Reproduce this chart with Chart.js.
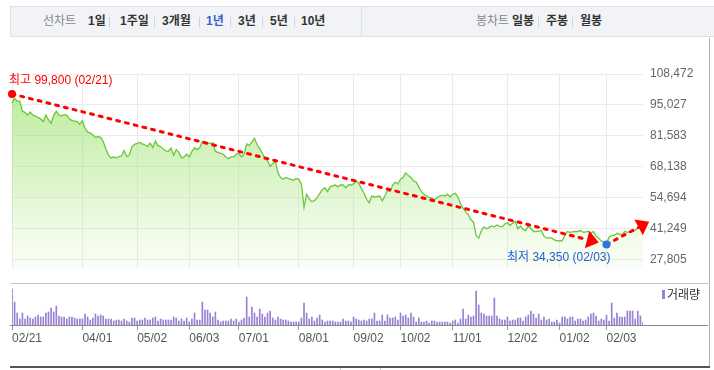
<!DOCTYPE html>
<html>
<head>
<meta charset="utf-8">
<script src="https://cdn.jsdelivr.net/npm/chart.js@4.4.1/dist/chart.umd.min.js"></script>
<style>
  body { margin: 0; width: 714px; height: 370px; overflow: hidden; background: #fff; position: relative;
         font-family: "Liberation Sans", "Noto Sans CJK KR", sans-serif; }
  .abs { position: absolute; }
  #tabs { left: 10px; top: 6px; width: 704px; height: 29px; background: #f1f3f6;
          border-top: 1px solid #dde0e5; border-bottom: 1px solid #dde0e5; border-left: 1px solid #dde0e5; }
  .t { position: absolute; top: 6px; font-size: 12px; line-height: 16px; color: #333; font-weight: bold; white-space: nowrap; }
  .g { color: #888; font-weight: normal; }
  .on { color: #3a5fd0; }
  .sep { position: absolute; top: 10px; width: 1px; height: 10px; background: #d0d3d8; }
</style>
</head>
<body>
<div id="tabs" class="abs">
  <span class="t g" style="left:32px">선차트</span>
  <span class="t" style="left:77px">1일</span><i class="sep" style="left:98px"></i>
  <span class="t" style="left:109px">1주일</span><i class="sep" style="left:143px"></i>
  <span class="t" style="left:151px">3개월</span><i class="sep" style="left:188px"></i>
  <span class="t on" style="left:195px">1년</span><i class="sep" style="left:219px"></i>
  <span class="t" style="left:227px">3년</span><i class="sep" style="left:251px"></i>
  <span class="t" style="left:259px">5년</span><i class="sep" style="left:283px"></i>
  <span class="t" style="left:290px">10년</span>
  <i class="abs" style="left:350px;top:0;width:1px;height:29px;background:#dde0e5"></i>
  <span class="t g" style="left:465px">봉차트</span>
  <span class="t" style="left:501px">일봉</span><i class="sep" style="left:527px"></i>
  <span class="t" style="left:535px">주봉</span><i class="sep" style="left:561px"></i>
  <span class="t" style="left:569px">월봉</span>
</div>

<div class="abs" style="left:0;top:40px;width:714px;height:243px"><canvas id="price"></canvas></div>
<div class="abs" style="left:0;top:283px;width:714px;height:62px"><canvas id="vol"></canvas></div>

<div class="abs" style="left:10px;top:283px;width:698px;height:1px;background:#c4c4c4"></div>
<div class="abs" style="left:10px;top:325px;width:698px;height:1px;background:#8a8a8a"></div>
<div class="abs" style="left:709px;top:38px;width:1px;height:330px;background:#b0b0b0"></div>
<div class="abs" style="left:10px;top:366px;width:700px;height:2px;background:#555"></div>
<div class="abs" style="left:340px;top:368px;width:39px;height:3px;border-left:1px solid #ccc;border-right:1px solid #ccc"></div>
<div class="abs" style="left:662px;top:290px;width:3px;height:9px;background:#9b84d3"></div>
<div class="abs" style="left:667px;top:287px;font-size:12px;line-height:16px;color:#333">거래량</div>

<script>
// 1년 일봉 종가 (2024-02-21 ~ 2025-02-21)
const closes = [
  95900, 97900, 96700, 96700, 92300, 91800, 90600, 91900, 90600, 90200,
  89500, 89000, 87800, 90600, 88600, 87000, 90600, 92300, 90600, 90300,
  90800, 90600, 89000, 88200, 88000, 87800, 86600, 88200, 85000, 83200,
  82900, 82000, 81000, 81200, 80900, 79000, 76000, 73200, 72000, 72400,
  72000, 72600, 72800, 75200, 72600, 73200, 76800, 77900, 78300, 78700,
  78100, 77600, 77000, 78400, 76500, 79300, 77300, 76900, 75900, 75000,
  74900, 76300, 73200, 75600, 74400, 72000, 72400, 73600, 72400, 74800,
  76400, 75600, 76400, 79300, 78800, 78500, 78300, 78500, 74800, 74400,
  74000, 73600, 72400, 71600, 72400, 72400, 73600, 74000, 72400, 73600,
  78100, 77300, 78900, 80500, 77700, 76000, 74000, 71600, 70800, 68300,
  69600, 70400, 65500, 63500, 62700, 63500, 63000, 62700, 62300, 63100,
  62700, 60600, 50500, 56200, 54200, 52900, 53500, 54600, 56500, 58200,
  59000, 57400, 59400, 59800, 60200, 59400, 60200, 60200, 59000, 60200,
  60200, 60700, 61900, 61000, 58600, 56600, 54000, 52500, 55400, 55000,
  55200, 55400, 53300, 55400, 57800, 57400, 60200, 61500, 60600, 62700,
  63500, 65500, 64300, 63500, 62000, 61500, 59400, 57400, 56200, 55400,
  54800, 54600, 53800, 54600, 55400, 55800, 55400, 56200, 55000, 56200,
  56600, 55000, 52100, 50100, 48500, 47300, 45200, 44000, 38300, 37100,
  40400, 42000, 41200, 41800, 42400, 42000, 42800, 42200, 42000, 43200,
  43800, 42600, 43600, 44400, 41200, 42400, 41000, 40400, 42400, 41200,
  40000, 40000, 40200, 40400, 38000, 37100, 37300, 37100, 36300, 35900,
  36000, 35900, 38300, 40000, 39600, 39800, 40000, 40000, 40400, 39600,
  39800, 40000, 39200, 40000, 37900, 37100, 35900, 35400, 34700, 37500,
  38300, 38300, 39200, 38800, 38700, 40000, 39600, 39900, 40000, 40400,
  41600, 42000, 42800
];

// 거래량 (만주)
const volumes = [
  36, 23, 12, 6, 12, 6, 9, 7, 6, 8,
  10, 8, 8, 12, 13, 17, 13, 19, 9, 8,
  8, 6, 8, 8, 7, 6, 6, 6, 11, 8,
  5, 7, 11, 9, 10, 9, 6, 6, 6, 4,
  5, 5, 4, 6, 4, 3, 7, 7, 4, 5,
  5, 7, 5, 5, 7, 8, 4, 6, 5, 5,
  5, 5, 8, 7, 4, 6, 4, 7, 3, 6,
  12, 5, 5, 23, 15, 15, 12, 8, 13, 5,
  3, 4, 4, 4, 6, 4, 6, 3, 5, 7,
  28, 8, 18, 12, 8, 16, 11, 8, 12, 14,
  7, 5, 8, 6, 5, 5, 4, 3, 3, 3,
  3, 7, 22, 12, 6, 8, 4, 7, 10, 5,
  3, 4, 4, 4, 3, 3, 3, 6, 4, 4,
  3, 8, 6, 5, 4, 5, 4, 6, 6, 12,
  4, 4, 10, 4, 10, 7, 7, 8, 5, 12,
  9, 10, 7, 12, 8, 3, 7, 3, 3, 4,
  2, 4, 4, 3, 3, 3, 3, 3, 2, 4,
  5, 2, 6, 16, 6, 10, 8, 9, 34, 20,
  12, 11, 9, 9, 9, 27, 9, 6, 5, 5,
  8, 4, 5, 5, 7, 7, 4, 8, 10, 14,
  11, 7, 11, 5, 8, 5, 6, 3, 3, 5,
  2, 8, 8, 6, 8, 8, 4, 6, 6, 4,
  5, 8, 11, 12, 9, 4, 6, 5, 10, 4,
  22, 7, 12, 8, 8, 8, 14, 14, 14, 6,
  14, 9, 3
];

const yTicks = [27805, 41249, 54694, 68138, 81583, 95027, 108472];
const xTickLabels = ['02/21', '04/01', '05/02', '06/03', '07/01', '08/01', '09/02', '10/02', '11/01', '12/02', '01/02', '02/03'];

const startDate = '2024-02-21';
const holidays = ['2024-03-01', '2024-04-10', '2024-05-01', '2024-05-06', '2024-05-15', '2024-06-06',
  '2024-08-15', '2024-09-16', '2024-09-17', '2024-09-18', '2024-10-01', '2024-10-03', '2024-10-09',
  '2024-12-25', '2024-12-31', '2025-01-01', '2025-01-27', '2025-01-28', '2025-01-29', '2025-01-30'];

const highValue = 99800, highDate = '2024-02-21';
const lowValue = 34350, lowDate = '2025-02-03';

// trading days
const dates = [];
const d = new Date(startDate + 'T00:00:00Z');
while (dates.length < closes.length) {
  const iso = d.toISOString().slice(0, 10);
  const wd = d.getUTCDay();
  if (wd !== 0 && wd !== 6 && !holidays.includes(iso)) dates.push(iso);
  d.setUTCDate(d.getUTCDate() + 1);
}
const mmdd = (iso) => iso.slice(5).replace('-', '/');
const tickIdx = xTickLabels.map((l) => dates.findIndex((s) => mmdd(s) === l));
const fmt = (v) => v.toLocaleString('en-US');

const FONT = '"Liberation Sans", "Noto Sans CJK KR", sans-serif';
Chart.defaults.font.family = FONT;
Chart.defaults.font.size = 12;

function arrow(ctx, from, to, extend) {
  const dx = to.x - from.x, dy = to.y - from.y;
  const len = Math.hypot(dx, dy);
  const ux = dx / len, uy = dy / len;
  const tip = { x: to.x + ux * extend, y: to.y + uy * extend };
  const base = { x: tip.x - ux * 12, y: tip.y - uy * 12 };
  ctx.save();
  ctx.strokeStyle = '#ff0000';
  ctx.lineWidth = 3;
  ctx.lineCap = 'round';
  ctx.setLineDash([3, 6]);
  ctx.beginPath();
  ctx.moveTo(from.x, from.y);
  ctx.lineTo(base.x, base.y);
  ctx.stroke();
  ctx.setLineDash([]);
  ctx.fillStyle = '#ff0000';
  ctx.beginPath();
  ctx.moveTo(tip.x, tip.y);
  ctx.lineTo(base.x - uy * 9, base.y + ux * 9);
  ctx.lineTo(base.x + uy * 9, base.y - ux * 9);
  ctx.closePath();
  ctx.fill();
  ctx.restore();
}

const marks = {
  id: 'marks',
  afterDatasetsDraw(chart) {
    const { ctx, scales: { x, y } } = chart;
    const hiI = dates.indexOf(highDate), loI = dates.indexOf(lowDate), last = closes.length - 1;
    const hi = { x: x.getPixelForValue(hiI), y: y.getPixelForValue(highValue) };
    const lo = { x: x.getPixelForValue(loI), y: y.getPixelForValue(lowValue) };
    const end = { x: x.getPixelForValue(last), y: y.getPixelForValue(closes[last]) };
    arrow(ctx, hi, lo, -8);
    arrow(ctx, lo, end, 7);
    ctx.save();
    ctx.fillStyle = '#ff0000';
    ctx.beginPath(); ctx.arc(hi.x, hi.y, 4, 0, Math.PI * 2); ctx.fill();
    ctx.fillStyle = '#2a78dc';
    ctx.beginPath(); ctx.arc(lo.x, lo.y, 4, 0, Math.PI * 2); ctx.fill();
    ctx.font = '12px ' + FONT;
    ctx.textBaseline = 'middle';
    ctx.fillStyle = '#ff0000';
    ctx.textAlign = 'left';
    ctx.fillText('최고 ' + fmt(highValue) + ' (' + mmdd(highDate) + ')', hi.x - 3, hi.y - 13);
    ctx.fillStyle = '#2362c8';
    ctx.textAlign = 'right';
    ctx.fillText('최저 ' + fmt(lowValue) + ' (' + mmdd(lowDate) + ')', lo.x + 4, lo.y + 13);
    ctx.restore();
  }
};

const setXTicks = (scale) => { scale.ticks = tickIdx.map((i) => ({ value: i })); };

new Chart(document.getElementById('price'), {
  type: 'line',
  data: {
    labels: dates,
    datasets: [{
      data: closes,
      borderColor: '#6cc63a',
      borderWidth: 1.3,
      pointRadius: 0,
      tension: 0,
      fill: 'start',
      backgroundColor: (c) => {
        const a = c.chart.chartArea;
        if (!a) return 'rgba(0,0,0,0)';
        const g = c.chart.ctx.createLinearGradient(0, a.top, 0, a.bottom);
        g.addColorStop(0, 'rgba(140,220,80,0.62)');
        g.addColorStop(0.6, 'rgba(150,225,100,0.3)');
        g.addColorStop(1, 'rgba(200,240,170,0.1)');
        return g;
      }
    }]
  },
  options: {
    responsive: true,
    maintainAspectRatio: false,
    animation: false,
    events: [],
    layout: { autoPadding: false, padding: { left: 12, top: 34, right: 0, bottom: 0 } },
    plugins: { legend: { display: false }, tooltip: { enabled: false } },
    scales: {
      x: {
        type: 'category',
        offset: false,
        afterBuildTicks: setXTicks,
        afterFit: (s) => { s.height = 0; },
        grid: { color: '#ebebeb', drawTicks: false },
        border: { display: false },
        ticks: { display: false, autoSkip: false }
      },
      y: {
        position: 'right',
        min: yTicks[0] - (yTicks[1] - yTicks[0]) * 0.3,
        max: yTicks[yTicks.length - 1],
        afterBuildTicks: (s) => { s.ticks = yTicks.map((v) => ({ value: v })); },
        afterFit: (s) => { s.width = 71; },
        grid: { color: '#ebebeb', drawTicks: false },
        border: { display: false },
        ticks: { padding: 7, color: '#666', callback: (v) => fmt(v) }
      }
    }
  },
  plugins: [marks]
});

new Chart(document.getElementById('vol'), {
  type: 'bar',
  data: {
    labels: dates,
    datasets: [{ data: volumes, backgroundColor: '#9880d2', barThickness: 1, borderWidth: 0 }]
  },
  options: {
    responsive: true,
    maintainAspectRatio: false,
    animation: false,
    events: [],
    layout: { autoPadding: false, padding: { left: 12, top: 5, right: 71, bottom: 0 } },
    plugins: { legend: { display: false }, tooltip: { enabled: false } },
    scales: {
      x: {
        type: 'category',
        offset: false,
        afterBuildTicks: setXTicks,
        afterFit: (s) => { s.height = 20; },
        grid: { offset: false, drawOnChartArea: false, drawTicks: true, tickLength: 5, color: '#999' },
        border: { display: false },
        ticks: { autoSkip: false, maxRotation: 0, align: 'start', padding: 1, color: '#555',
                 callback: (v) => mmdd(dates[v]) }
      },
      y: { display: false, min: 0, max: 37 }
    }
  }
});
</script>
</body>
</html>
